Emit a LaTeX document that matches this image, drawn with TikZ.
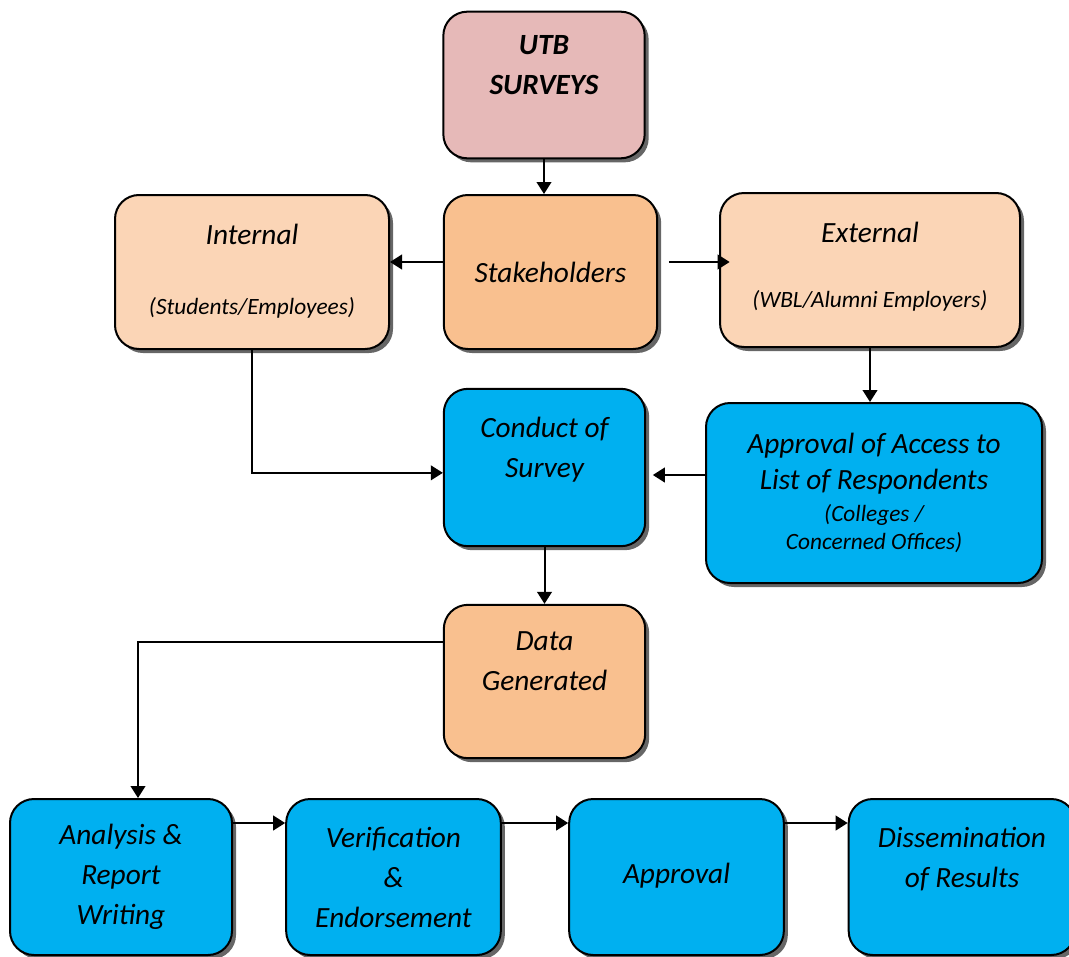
\documentclass[tikz,border=0pt]{standalone}
\usepackage{fontspec}
\setmainfont{Carlito}
\usetikzlibrary{shadows,arrows.meta}

\definecolor{utbpink}{HTML}{E6B9B8}
\definecolor{stakeorange}{HTML}{F9C08F}
\definecolor{peach}{HTML}{FBD5B6}
\definecolor{procblue}{HTML}{00B0F0}

\newcommand{\smalltxt}{\fontsize{17.5}{21}\selectfont}

\begin{document}
\begin{tikzpicture}[x=0.75pt,y=-0.75pt,
  flowbox/.style={draw=black, line width=1.5pt, rounded corners=18pt,
    align=center, inner sep=0pt, font=\itshape\fontsize{22}{30}\selectfont,
    drop shadow={shadow xshift=3pt, shadow yshift=-3pt, fill=black!60, opacity=1}},
  flow/.style={line width=1.5pt, -{Triangle[length=9pt,width=11pt]}}]
\useasboundingbox (0,0) rectangle (1069,956);

% Top of the chart
\node[flowbox, fill=utbpink, minimum width=151pt, minimum height=110pt]
  (utb) at (544,85) {\bfseries UTB\\\bfseries SURVEYS\\ \mbox{}};
\node[flowbox, fill=stakeorange, minimum width=160pt, minimum height=115.5pt]
  (stake) at (550.5,272) {Stakeholders};
\node[flowbox, fill=peach, minimum width=205.5pt, minimum height=115.5pt]
  (internal) at (252,272) {Internal\\[23pt]{\smalltxt (Students/Employees)}\\[-26pt]\mbox{}};
\node[flowbox, fill=peach, minimum width=225pt, minimum height=115.5pt]
  (external) at (870,270) {External\\[18.5pt]{\smalltxt (WBL/Alumni Employers)}\\[-22pt]\mbox{}};

% Survey
\node[flowbox, fill=procblue, minimum width=151pt, minimum height=118pt]
  (conduct) at (544.5,467.5) {Conduct of\\Survey\\ \mbox{}};
\node[flowbox, fill=procblue, minimum width=252pt, minimum height=135pt]
  (access) at (874,493) {Approval of Access to\\[-3pt]List of Respondents\\[-6pt]
  {\smalltxt (Colleges /}\\[-9pt]{\smalltxt Concerned Offices)}};
\node[flowbox, fill=stakeorange, minimum width=151pt, minimum height=115pt]
  (data) at (544.5,681.5) {Data\\Generated\\ \mbox{}};

% Bottom row
\node[flowbox, fill=procblue, minimum width=166.5pt, minimum height=117pt]
  (analysis) at (121,877) {Analysis \&\\Report\\Writing};
\node[flowbox, fill=procblue, minimum width=161pt, minimum height=117pt]
  (verify) at (393.5,877) {Verification\\\&\\Endorsement};
\node[flowbox, fill=procblue, minimum width=161pt, minimum height=117pt]
  (approval) at (676.5,877) {Approval\\[-24pt] \mbox{}};
\node[flowbox, fill=procblue, minimum width=170pt, minimum height=117pt]
  (dissem) at (962,877) {Dissemination\\of Results\\ \mbox{}};

% Connectors
\draw[flow] (utb.south) -- (utb.south |- stake.north);
\draw[flow] ([yshift=7.5pt]stake.west) -- ([yshift=7.5pt]stake.west -| internal.east);
\draw[flow] ([xshift=8pt,yshift=7.5pt]stake.east) -- ([xshift=8pt,yshift=7.5pt]stake.east -| external.west);
\draw[flow] (external.south) -- (external.south |- access.north);
\draw[flow] (internal.south) |- ([yshift=-4pt]conduct.west);
\draw[flow] ([yshift=13.5pt]access.west) -- ([xshift=5pt,yshift=13.5pt]access.west -| conduct.east);
\draw[flow] (conduct.south) -- (conduct.south |- data.north);
\draw[flow] ([yshift=30pt]data.west) -| ([xshift=12.75pt]analysis.north);
\draw[flow] ([yshift=40.5pt]analysis.east) -- ([yshift=40.5pt]analysis.east -| verify.west);
\draw[flow] ([yshift=40.5pt]verify.east) -- ([yshift=40.5pt]verify.east -| approval.west);
\draw[flow] ([yshift=40.5pt]approval.east) -- ([yshift=40.5pt]approval.east -| dissem.west);
\end{tikzpicture}
\end{document}
